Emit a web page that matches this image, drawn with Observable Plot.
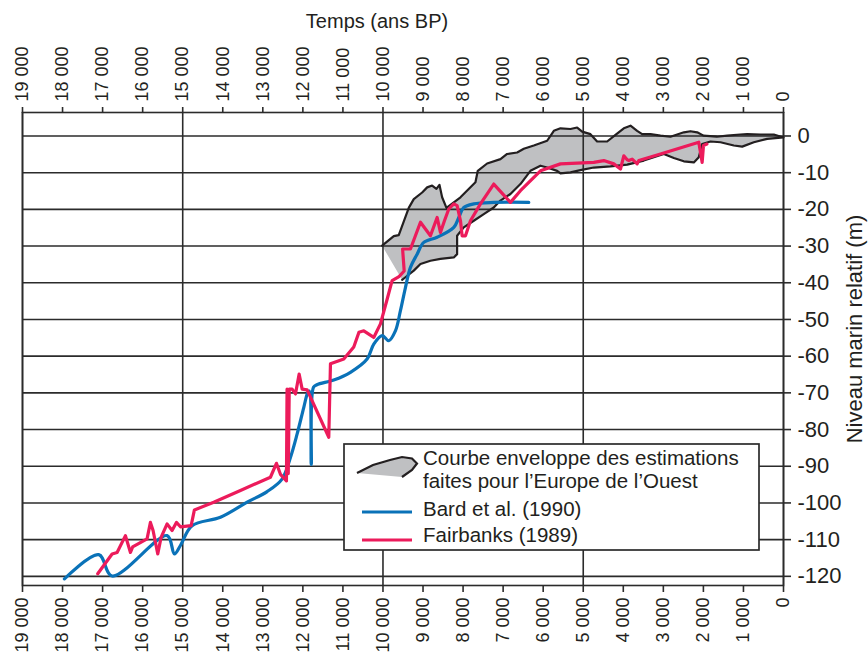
<!DOCTYPE html>
<html><head><meta charset="utf-8">
<script src="https://cdn.jsdelivr.net/npm/d3@7"></script>
<script src="https://cdn.jsdelivr.net/npm/@observablehq/plot@0.6"></script>
<style>
body{margin:0;background:#fff;font-family:"Liberation Sans",Arial,sans-serif;}
#wrap{position:relative;width:868px;height:659px;}
#legend{position:absolute;left:343px;top:443px;}
</style></head><body><div id="wrap"></div>
<script>
// ---- axes ----
const xTicks = d3.range(0, 19001, 1000);
const xGridYears = [19000, 15000, 10000, 5000, 0];
const yTicks = d3.range(-120, 1, 10);

// ---- Bard et al. (1990) ----
const bardYear  = [17953,17097,16763,15390,15207,15057,14766,14058,13392,12892,12520,12310,12143,11978,11878,11840,11790,11735,11650,11229,10812,10396,10230,10021,9855,9689,9564,9439,9314,9147,8981,8648,8232,8107,7983,7733,7234,6360];
const bardLevel = [-120.7,-114.1,-119.9,-108.9,-113.9,-111.6,-106.2,-103.9,-99.8,-96.9,-93.5,-87.6,-81.2,-74.0,-69.9,-69.5,-89.5,-68.5,-67.8,-66.5,-64.4,-60.8,-56.7,-54.4,-55.8,-53.1,-47.6,-41.3,-35.8,-32.2,-29.0,-27.6,-24.9,-22.2,-19.5,-18.5,-18.1,-18.1];

// ---- Fairbanks (1989) ----
const fairYear  = [17122,16763,16638,16430,16305,16250,15890,15806,15740,15623,15540,15390,15265,15157,15057,14790,14708,14225,13559,12810,12660,12560,12410,12395,12365,12340,12268,12185,12093,12018,11893,11353,11311,10978,10729,10600,10479,10230,10063,9896,9772,9600,9470,9510,9314,9064,8815,8648,8565,8465,8357,8232,8149,8065,8024,7940,7816,7566,7234,6817,6568,6068,5568,4736,4487,4237,4070,3987,3903,3862,3778,3654,3612,3071,2115,2031,1998,1913];
const fairLevel = [-119.3,-113.9,-113.5,-108.9,-113.5,-112.0,-109.8,-105.3,-107.5,-113.9,-109.4,-105.7,-107.5,-105.3,-106.5,-106.2,-101.9,-99.8,-96.6,-93.0,-89.2,-92.2,-94.0,-69.0,-92.0,-69.0,-69.0,-70.3,-64.9,-69.0,-69.2,-82.1,-62.1,-60.8,-57.5,-53.5,-53.1,-54.9,-51.2,-44.5,-39.4,-38.3,-36.8,-30.8,-30.8,-23.5,-27.2,-22.2,-26.3,-23.1,-19.9,-18.5,-19.0,-23.1,-27.2,-27.2,-23.1,-18.5,-13.1,-18.1,-14.9,-9.5,-7.6,-7.2,-6.7,-7.6,-9.0,-5.4,-6.5,-6.7,-6.3,-7.6,-6.7,-4.9,-1.7,-7.2,-2.6,-2.2];

// ---- Courbe enveloppe (upper edge 10 000 -> 0, then lower edge 0 -> 9 500) ----
const envYear  = [10021,9730,9606,9356,9231,9022,8897,8773,8665,8590,8523,8415,8065,7691,7633,7400,7067,6900,6650,6484,6234,5901,5734,5568,5319,5152,5027,4820,4653,4403,4195,3987,3820,3654,3529,3321,3071,2822,2655,2488,2322,2155,1998,1665,1406,1081,907,574,242,0,
                  408,741,1031,1240,1573,1823,2031,2115,2239,2489,2738,2988,3238,3488,3903,4320,4736,5069,5319,5568,5652,5901,6068,6318,6568,6817,7067,7234,7483,7733,7983,8149,8149,8232,8565,8815,9064,9231,9439,9522];
const envLevel = [-29.9,-27.3,-27.0,-19.6,-17.2,-15.4,-14.0,-13.5,-14.4,-13.3,-16.7,-19.6,-16.7,-12.6,-9.5,-7.5,-6.3,-4.9,-4.5,-3.5,-2.6,-1.3,1.4,2.1,1.9,2.3,1.2,0.5,-1.5,-1.5,0.3,2.1,2.8,1.4,0.5,0.5,0.1,-0.2,0.4,1.0,1.3,1.0,0.1,-0.2,0.1,0.4,0.5,0.4,0.4,-0.4,
                  -0.8,-1.7,-2.9,-2.6,-1.7,-1.5,-2.2,-5.8,-7.2,-6.9,-6.0,-4.9,-5.8,-6.7,-7.8,-8.3,-8.6,-9.3,-9.9,-10.2,-9.5,-8.6,-8.1,-9.5,-13.1,-15.8,-17.6,-19.5,-21.3,-23.1,-24.9,-27.2,-32.2,-33.1,-33.5,-34.0,-34.9,-36.7,-38.5,-39.2];

const bard = bardYear.map((d, i) => ({year: d, level: bardLevel[i]}));
const fair = fairYear.map((d, i) => ({year: d, level: fairLevel[i]}));
const env  = envYear.map((d, i) => ({year: d, level: envLevel[i]}));

const INK = "#231f20", GRID = "#2b2b2b";
const BLUE = "#0a72b8", PINK = "#ec1b5b", GRAY = "#bfc0c2";
const fmt = d => d3.format(",")(d).replace(/,/g, " ");

const chart = Plot.plot({
  width: 868, height: 659,
  marginLeft: 22, marginRight: 85, marginTop: 112, marginBottom: 74,
  style: {fontFamily: "'Liberation Sans', Arial, sans-serif", color: INK, background: "white", overflow: "visible"},
  x: {domain: [19000, 0]},
  y: {domain: [-122.5, 6.4]},
  marks: [
    Plot.line(env, {x: "year", y: "level", fill: GRAY, stroke: "none"}),
    Plot.ruleY(yTicks, {stroke: GRID, strokeWidth: 1.6}),
    Plot.ruleX(xGridYears, {stroke: GRID, strokeWidth: 1.6}),
    Plot.frame({stroke: GRID, strokeWidth: 1.6}),
    Plot.line(env, {x: "year", y: "level", stroke: INK, strokeWidth: 2.2}),
    Plot.line(bard, {x: "year", y: "level", stroke: BLUE, strokeWidth: 3.2, curve: "catmull-rom"}),
    Plot.line(fair, {x: "year", y: "level", stroke: PINK, strokeWidth: 3.2}),
    Plot.axisX({anchor: "top", ticks: xTicks, tickSize: 6, tickPadding: 5, tickRotate: -90, tickFormat: fmt, fontSize: 18, label: null, stroke: GRID, strokeWidth: 1.6}),
    Plot.axisX({anchor: "bottom", ticks: xTicks, tickSize: 7, tickPadding: 5, tickRotate: -90, tickFormat: fmt, fontSize: 18, label: null, stroke: GRID, strokeWidth: 1.6}),
    Plot.axisY({anchor: "right", ticks: yTicks, tickSize: 7, tickPadding: 7, tickFormat: d => String(d), fontSize: 22, label: null, stroke: GRID, strokeWidth: 1.6})
  ]
});

const svg = d3.select(chart);
svg.append("text").attr("x", 377).attr("y", 28).attr("text-anchor", "middle")
  .attr("font-size", 20).attr("fill", INK).text("Temps (ans BP)");
svg.append("text").attr("transform", "translate(862,329) rotate(-90)").attr("text-anchor", "middle")
  .attr("font-size", 22).attr("fill", INK).text("Niveau marin relatif (m)");

const wrap = document.getElementById("wrap");
wrap.appendChild(chart);

// ---- legend ----
const legendItems = ["Courbe enveloppe des estimations", "faites pour l\u2019Europe de l\u2019Ouest", "Bard et al. (1990)", "Fairbanks (1989)"];
const lg = d3.select(wrap).append("div").attr("id", "legend")
  .append("svg").attr("width", 418).attr("height", 109);
lg.append("rect").attr("x", 1).attr("y", 1).attr("width", 415).attr("height", 106)
  .attr("fill", "white").attr("stroke", GRID).attr("stroke-width", 1.7);
lg.append("path").attr("d", "M14,30 L30,22 L47,17 L59,14 L69,15.5 L74,20.5 L69,27 L59,34 Z")
  .attr("fill", GRAY).attr("stroke", "none");
lg.append("path").attr("d", "M14,30 L30,22 L47,17 L59,14 L69,15.5 L74,20.5 L69,27 L59,34")
  .attr("fill", "none").attr("stroke", INK).attr("stroke-width", 2.2);
lg.append("line").attr("x1", 19).attr("x2", 69).attr("y1", 69).attr("y2", 69).attr("stroke", BLUE).attr("stroke-width", 3);
lg.append("line").attr("x1", 19).attr("x2", 69).attr("y1", 97).attr("y2", 97).attr("stroke", PINK).attr("stroke-width", 3);
const baselines = [22, 45, 73, 99];
legendItems.forEach((t, i) => {
  lg.append("text").attr("x", 80).attr("y", baselines[i]).attr("font-size", 20.5).attr("fill", INK)
    .style("font-family", "'Liberation Sans', Arial, sans-serif").text(t);
});
</script></body></html>
